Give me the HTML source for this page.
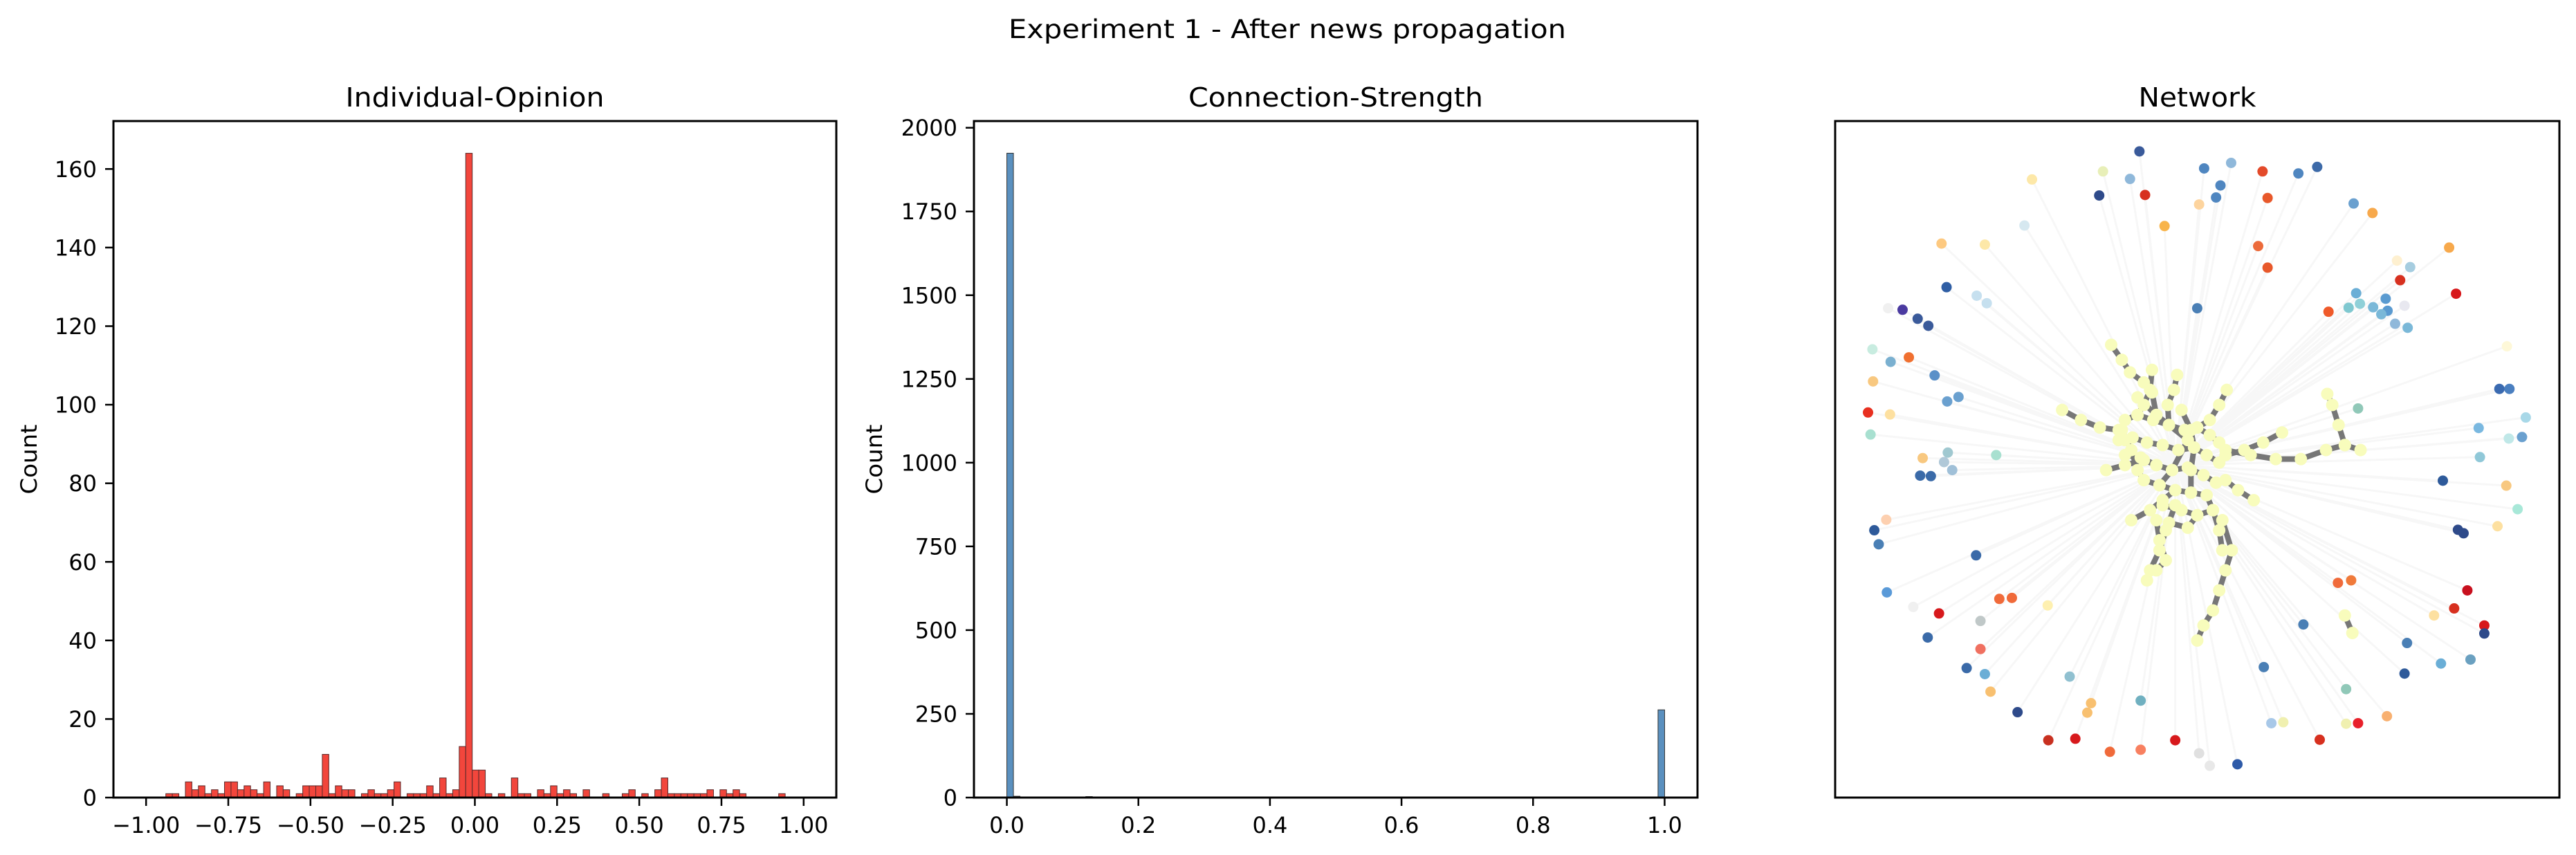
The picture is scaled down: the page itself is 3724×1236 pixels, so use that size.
<!DOCTYPE html>
<html><head><meta charset="utf-8">
<style>
html,body{margin:0;padding:0;background:#fff;}
svg{display:block;}
text{font-family:"DejaVu Sans","Liberation Sans",sans-serif;fill:#000;}
</style></head>
<body>
<svg id="fig" width="3724" height="1236" viewBox="0 0 3724 1236" xmlns="http://www.w3.org/2000/svg">
<rect width="3724" height="1236" fill="#fff"/>
<text x="1861" y="55" font-size="37" text-anchor="middle" textLength="806" lengthAdjust="spacingAndGlyphs">Experiment 1 - After news propagation</text>
<g id="ax1"></g>
<g id="ax2"></g>
<g id="ax3"></g>
</svg>
<script>
// ---------- data ----------
const opinionBinStart = -0.94;
const opinionBinWidth = 0.01983;
const opinionCounts = [1,1,0,4,2,3,1,2,1,4,4,2,3,2,1,4,0,3,2,0,1,3,3,3,11,1,3,2,2,0,1,2,1,1,2,4,0,1,1,1,3,1,5,1,2,13,164,7,7,1,0,1,0,5,1,1,0,2,1,3,1,2,1,0,2,0,0,1,0,0,1,2,0,1,0,2,5,1,1,1,1,1,1,2,0,2,1,2,1,0,0,0,0,0,1];
const opinionXTicks = [-1.0,-0.75,-0.5,-0.25,0,0.25,0.5,0.75,1.0];
const opinionXTickLabels = ["\u22121.00","\u22120.75","\u22120.50","\u22120.25","0.00","0.25","0.50","0.75","1.00"];
const opinionYTicks = [0,20,40,60,80,100,120,140,160];

const strengthBinStart = 0;
const strengthBinWidth = 0.01;
const strengthBinIndex = [0,1,12,99];
const strengthCounts = [1924,4,3,262];
const strengthXTicks = [0,0.2,0.4,0.6,0.8,1.0];
const strengthXTickLabels = ["0.0","0.2","0.4","0.6","0.8","1.0"];
const strengthYTicks = [0,250,500,750,1000,1250,1500,1750,2000];

// network layout coordinates (layout units) and colours
const outerNodes = [
[873,164,'#3a5a9a'],[976,198,'#4f86c0'],[1019,187,'#8fb8da'],[1069,204,'#e34a2a'],[1126,208,'#4f86c0'],[1156,195,'#3d6aa8'],
[702,220,'#fde8a8'],[815,204,'#e8efb8'],[858,219,'#8fb8da'],[809,252,'#2e4a8a'],[882,251,'#d7301f'],[1002,232,'#4f86c0'],
[995,256,'#4f86c0'],[968,270,'#fdd49e'],[1077,257,'#e8582a'],[1214,268,'#6aa0cf'],[1244,287,'#f7a94c'],[913,313,'#f8b44a'],
[690,312,'#d6e8f0'],[558,348,'#fdc980'],[627,350,'#fde8a8'],[1062,353,'#ec6a3a'],[1366,356,'#f7a94c'],[1077,396,'#e8582a'],
[1304,395,'#a6cde0'],[1288,421,'#d7301f'],[1377,448,'#d7191c'],[566,435,'#2f5ea4'],[614,452,'#c6e0ef'],[630,467,'#c6e0ef'],
[965,477,'#4a7fb5'],[1174,484,'#ef5a2a'],[496,480,'#4a3aa0'],[520,498,'#3a5a9a'],[537,512,'#3a5a9a'],
[1218,447,'#6aaed6'],[1206,476,'#7fc8d0'],[1224,468,'#8fd0d8'],[1245,475,'#7ab8d8'],[1265,458,'#5a9ad0'],[1268,482,'#5a9ad0'],
[1258,489,'#7ab8d8'],[1280,508,'#8fb8da'],[1300,516,'#7ab8d8'],[1295,472,'#e8e8f0'],
[448,559,'#c8ece0'],[477,584,'#7ab0d0'],[506,575,'#f07030'],[547,611,'#5a90c8'],[449,623,'#f8c880'],[567,663,'#6aa0cf'],[585,654,'#6aa0cf'],
[441,685,'#e83020'],[476,689,'#fde0a0'],[445,729,'#a8e0d0'],[1446,638,'#3a6ab0'],[1462,638,'#4a7fc0'],[1221,677,'#90c8b8'],
[1488,695,'#a8d8e8'],[1413,716,'#7ab8e0'],[1461,737,'#c0e8e8'],[1482,734,'#6aa0cf'],[528,776,'#f8c880'],[568,765,'#a0c8d0'],
[562,784,'#b0c8d8'],[575,800,'#a0c0d8'],[645,770,'#a8e0d0'],[524,811,'#3a6aa8'],[541,812,'#3a6aa8'],[1415,774,'#90c8d8'],
[1356,821,'#2e5a9a'],[1457,831,'#f8c880'],[1475,878,'#a8e8d8'],[1380,919,'#2e4a8a'],[1389,926,'#2e4a8a'],[1443,912,'#fde0a0'],
[470,899,'#fdd0b0'],[451,920,'#2e5a9a'],[458,948,'#4a7fb5'],[613,970,'#3a6aa8'],[471,1044,'#5a9ad8'],[650,1057,'#f06a3a'],
[670,1055,'#f06a3a'],[1189,1025,'#f06a3a'],[1210,1020,'#f07a3a'],[1395,1040,'#c8101e'],[727,1070,'#fef0b0'],[554,1086,'#d7191c'],
[1374,1076,'#d7301f'],[1422,1110,'#d7191c'],[1422,1126,'#2e4a8a'],[1342,1090,'#fde0a0'],[620,1101,'#c0c8c8'],[1134,1108,'#4a7fb5'],
[536,1134,'#3a6aa8'],[1299,1145,'#4a7fb5'],[620,1157,'#f07060'],[1353,1186,'#6aaed6'],[1400,1178,'#6aa0c0'],[598,1195,'#3a6aa8'],
[1071,1193,'#4a7fb5'],[627,1207,'#6aaed6'],[762,1212,'#90c0d0'],[1295,1206,'#2e5a9a'],[1202,1237,'#90c8b8'],[636,1242,'#f8c070'],
[875,1260,'#70b0c0'],[796,1265,'#f8c070'],[790,1284,'#f8c070'],[679,1283,'#2e4a8a'],[1267,1291,'#f8b070'],[1083,1305,'#a8c8e8'],
[1102,1303,'#f0f0b0'],[1202,1306,'#f0f0b0'],[1221,1305,'#e8202a'],[728,1339,'#c83020'],[771,1336,'#d7191c'],[930,1339,'#d7191c'],
[1160,1338,'#d7301f'],[826,1362,'#f06a3a'],[875,1358,'#f88060'],[968,1365,'#e0e0e0'],[985,1390,'#e8e8e8'],[1029,1387,'#2e5aa8'],
[1458,553,'#fef8d8'],[1283,382,'#fef0d0'],[473,477,'#f0f0f0'],[513,1073,'#f0f0f0']
];
const coreChains = [
[[828,550],[845,580],[858,605],[880,625],[893,645],[900,690]],
[[893,600],[890,640],[880,670],[870,690]],
[[933,610],[928,640],[918,670],[920,710]],
[[750,680],[780,700],[810,715],[840,720],[850,740]],
[[1012,640],[1000,670],[985,700],[965,715]],
[[1000,785],[1010,760],[1050,770],[1090,778],[1130,778],[1170,760],[1200,750],[1225,760]],
[[1200,750],[1190,710],[1180,670],[1172,648]],
[[1010,770],[1040,760],[1070,745],[1100,725]],
[[995,825],[1010,820],[1030,840],[1055,860]],
[[860,900],[890,880],[910,860],[930,840]],
[[930,870],[915,920],[905,960],[890,1000],[885,1020]],
[[990,880],[1000,920],[1005,960]],
[[1005,900],[1020,960],[1010,1000],[1000,1040],[990,1080],[975,1110],[965,1140]],
[[820,800],[850,790],[880,780],[900,790]],
[[850,700],[870,690],[895,700],[920,710],[945,720],[965,715],[985,730],[1000,745]],
[[840,740],[862,735],[885,745],[910,750],[935,760],[960,755],[980,770],[1000,785]],
[[850,770],[875,775],[900,790],[925,800],[950,795],[975,810],[995,825]],
[[880,820],[905,830],[930,840],[955,845],[980,850],[990,880]],
[[910,870],[940,880],[965,890],[990,880]],
[[920,905],[950,915],[965,890]],
[[870,655],[900,690],[950,740],[925,800],[905,830]],
[[845,720],[860,760],[870,800],[880,820]],
[[940,680],[955,720],[960,755],[955,800],[955,845]],
[[900,900],[905,940],[915,980],[900,1000]],
[[1200,1090],[1212,1125]]
];
const layoutCenter = [930,790];

// ---------- helpers ----------
const NS = 'http://www.w3.org/2000/svg';
function mk(parent, tag, attrs, txt){
  const e = document.createElementNS(NS, tag);
  for (const k in attrs) e.setAttribute(k, attrs[k]);
  if (txt !== undefined) e.textContent = txt;
  parent.appendChild(e);
  return e;
}
const TICK_FS = 32, TITLE_FS = 38;

function drawAxesFrame(g, L, R, T, B){
  const f = mk(g, 'rect', {x:L, y:T, width:R-L, height:B-T, fill:'none', stroke:'#000', 'stroke-width':3});
  
  
}
function drawTitle(g, cx, text, name, len){
  const t = mk(g, 'text', {x:cx, y:154, 'font-size':TITLE_FS, 'text-anchor':'middle', textLength:len, lengthAdjust:'spacingAndGlyphs'}, text);
  
  
}
function drawYLabel(g, x, y){
  const t = mk(g, 'text', {x:x, y:y, 'font-size':TICK_FS, 'text-anchor':'middle', transform:'rotate(-90 '+x+' '+y+')', dy:'0.35em', textLength:101, lengthAdjust:'spacingAndGlyphs'}, 'Count');
  
  
}
function drawXTicks(g, ticks, labels, sx, B){
  ticks.forEach((v,i)=>{
    const x = sx(v);
    const l = mk(g, 'line', {x1:x, x2:x, y1:B, y2:B+12, stroke:'#000', 'stroke-width':2.5});
    
    
    const t = mk(g, 'text', {x:x, y:1204, 'font-size':TICK_FS, 'text-anchor':'middle'}, labels[i]);
    
    
  });
}
function drawYTicks(g, ticks, sy, L){
  ticks.forEach(v=>{
    const y = sy(v);
    const l = mk(g, 'line', {x1:L-12, x2:L, y1:y, y2:y, stroke:'#000', 'stroke-width':2.5});
    
    
    const t = mk(g, 'text', {x:L-24, y:y, dy:'0.36em', 'font-size':TICK_FS, 'text-anchor':'end'}, String(v));
    
    
  });
}

// ---------- axes 1 ----------
(function(){
  const g = document.getElementById('ax1');
  const L=164, R=1209, T=175, B=1153;
  const xmin=-1.0993, xmax=1.0993, ymax=172.2;
  const sx = v => L + (v - xmin)/(xmax - xmin)*(R-L);
  const sy = v => B - v/ymax*(B-T);
  opinionCounts.forEach((c,k)=>{
    if (c<=0) return;
    const x0 = sx(opinionBinStart + k*opinionBinWidth), x1 = sx(opinionBinStart + (k+1)*opinionBinWidth);
    const r = mk(g, 'rect', {x:x0, y:sy(c), width:x1-x0, height:B-sy(c), fill:'#f2463c', stroke:'#5a2a2a', 'stroke-width':1});
    
    
  });
  drawAxesFrame(g, L, R, T, B);
  drawXTicks(g, opinionXTicks, opinionXTickLabels, sx, B);
  drawYTicks(g, opinionYTicks, sy, L);
  drawYLabel(g, 42, 664);
  drawTitle(g, (L+R)/2, 'Individual-Opinion', 'opinion-title', 374);
})();

// ---------- axes 2 ----------
(function(){
  const g = document.getElementById('ax2');
  const L=1408, R=2454, T=175, B=1153;
  const xmin=-0.05, xmax=1.05, ymax=2020;
  const sx = v => L + (v - xmin)/(xmax - xmin)*(R-L);
  const sy = v => B - v/ymax*(B-T);
  strengthBinIndex.forEach((k,i)=>{
    const c = strengthCounts[i];
    const x0 = sx(strengthBinStart + k*strengthBinWidth), x1 = sx(strengthBinStart + (k+1)*strengthBinWidth);
    const r = mk(g, 'rect', {x:x0, y:sy(c), width:x1-x0, height:B-sy(c), fill:'#5a90bf', stroke:'#333', 'stroke-width':1});
    
    
  });
  drawAxesFrame(g, L, R, T, B);
  drawXTicks(g, strengthXTicks, strengthXTickLabels, sx, B);
  drawYTicks(g, strengthYTicks, sy, L);
  drawYLabel(g, 1264, 664);
  drawTitle(g, (L+R)/2, 'Connection-Strength', 'strength-title', 426);
})();

// ---------- axes 3: network ----------
(function(){
  const g = document.getElementById('ax3');
  const L=2653, R=3700, T=175, B=1153;
  const nx = v => 2300 + v*0.9082;
  const ny = v => 100 + v*0.7245;
  const bg = mk(g, 'g', {});
  
  
  outerNodes.forEach(n=>{
    const l = mk(bg, 'line', {x1:nx(layoutCenter[0]), y1:ny(layoutCenter[1]), x2:nx(n[0]), y2:ny(n[1]), stroke:'#f7f7f7', 'stroke-width':3});
    
    
  });
  coreChains.forEach(ch=>{
    const p = mk(g, 'polyline', {points: ch.map(q=>nx(q[0])+','+ny(q[1])).join(' '), fill:'none', stroke:'#777', 'stroke-width':8, 'stroke-linejoin':'round'});
    
    
  });
  coreChains.forEach(ch=>{
    ch.forEach((q,i)=>{
      const c = mk(g, 'circle', {cx:nx(q[0]), cy:ny(q[1]), r:9, fill:'#f8fcbc'});
      
      
    });
  });
  outerNodes.forEach(n=>{
    const c = mk(g, 'circle', {cx:nx(n[0]), cy:ny(n[1]), r:7.5, fill:n[2]});
    
    
  });
  drawAxesFrame(g, L, R, T, B);
  drawTitle(g, (L+R)/2, 'Network', 'network-title', 170);
})();
</script>
</body></html>
